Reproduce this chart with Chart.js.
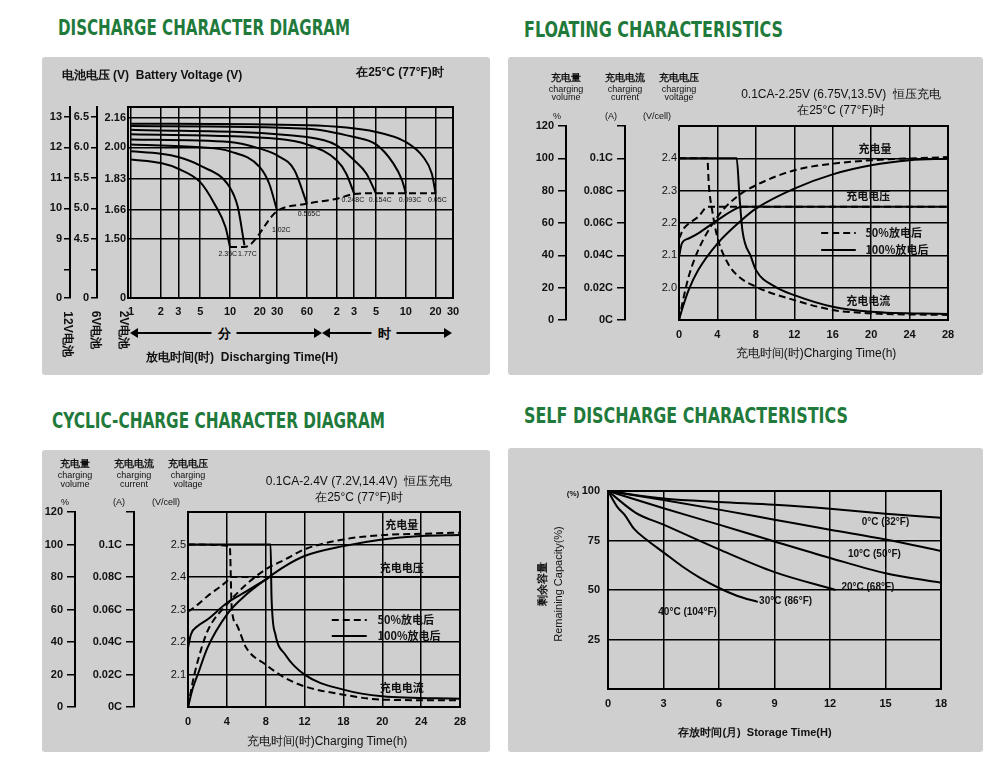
<!DOCTYPE html>
<html>
<head>
<meta charset="utf-8">
<script src="https://cdn.jsdelivr.net/npm/chart.js@4.4.1/dist/chart.umd.min.js"></script>
<style>
  body { margin: 0; width: 1000px; height: 770px; background: #fff; position: relative; overflow: hidden;
         font-family: "Liberation Sans", Arial, sans-serif; }
  .panel { position: absolute; background: #cfcfcf; border-radius: 3px; }
  .panel canvas { position: absolute; left: 0; top: 0; }
  .t { position: absolute; white-space: nowrap; color: #111; font-weight: bold; transform: translate(-50%, -50%); line-height: 1; }
  .ttl { position: absolute; white-space: nowrap; color: #1f7a3c; font-family: "DejaVu Sans Condensed", "DejaVu Sans", sans-serif;
         font-weight: bold; font-size: 21px; transform-origin: 0 50%; line-height: 1; }
  .vt { position: absolute; white-space: nowrap; font-weight: bold; color: #111; transform: translate(-50%, -50%) rotate(90deg); }
  .vl { position: absolute; white-space: nowrap; font-weight: bold; color: #111; transform: translate(-50%, -50%) rotate(-90deg); }
  .arr { position: absolute; height: 0; border-top: 2px solid #000; }
  .arr span { position: absolute; top: -9px; font-size: 13px; font-weight: bold; background: #cfcfcf; padding: 0 6px; transform: translateX(-50%); }
  .arr i { position: absolute; top: -6px; width: 0; height: 0; border-top: 5px solid transparent; border-bottom: 5px solid transparent; }
  .arr i.l { left: -2px; border-right: 8px solid #000; }
  .arr i.r { right: -2px; border-left: 8px solid #000; }
</style>
</head>
<body>
<div class="ttl" data-w="292" style="left:58px;top:18px">DISCHARGE CHARACTER DIAGRAM</div>
<div class="ttl" data-w="259" style="left:524px;top:20px">FLOATING CHARACTERISTICS</div>
<div class="ttl" data-w="333" style="left:52px;top:411px">CYCLIC-CHARGE CHARACTER DIAGRAM</div>
<div class="ttl" data-w="324" style="left:524px;top:406px">SELF DISCHARGE CHARACTERISTICS</div>

<div class="panel" style="left:42px;top:57px;width:448px;height:318px"><canvas id="c1" width="448" height="318"></canvas></div>
<div class="panel" style="left:508px;top:57px;width:475px;height:318px"><canvas id="c2" width="475" height="318"></canvas></div>
<div class="panel" style="left:42px;top:450px;width:448px;height:302px"><canvas id="c3" width="448" height="302"></canvas></div>
<div class="panel" style="left:508px;top:448px;width:475px;height:304px"><canvas id="c4" width="475" height="304"></canvas></div>

<!-- panel 1 texts -->
<div class="t" style="left:152px;top:75px;font-size:12px">电池电压 (V) &nbsp;Battery Voltage (V)</div>
<div class="t" style="left:400px;top:72px;font-size:12px">在25°C (77°F)时</div>
<div class="vt" style="left:67px;top:334px;font-size:12px">12V电池</div>
<div class="vt" style="left:95px;top:330px;font-size:12px">6V电池</div>
<div class="vt" style="left:123px;top:330px;font-size:12px">2V电池</div>
<div class="arr" style="left:132px;top:332px;width:188px"><i class="l"></i><span style="left:92px">分</span><i class="r"></i></div>
<div class="arr" style="left:324px;top:332px;width:126px"><i class="l"></i><span style="left:60px">时</span><i class="r"></i></div>
<div class="t" style="left:242px;top:357px;font-size:12px">放电时间(时) &nbsp;Discharging Time(H)</div>

<!-- panel 2 texts -->
<div class="t" style="left:566px;top:78px;font-size:10px">充电量</div>
<div class="t" style="left:566px;top:89px;font-size:9px;font-weight:normal">charging</div>
<div class="t" style="left:566px;top:97px;font-size:9px;font-weight:normal">volume</div>
<div class="t" style="left:625px;top:78px;font-size:10px">充电电流</div>
<div class="t" style="left:625px;top:89px;font-size:9px;font-weight:normal">charging</div>
<div class="t" style="left:625px;top:97px;font-size:9px;font-weight:normal">current</div>
<div class="t" style="left:679px;top:78px;font-size:10px">充电电压</div>
<div class="t" style="left:679px;top:89px;font-size:9px;font-weight:normal">charging</div>
<div class="t" style="left:679px;top:97px;font-size:9px;font-weight:normal">voltage</div>
<div class="t" style="left:557px;top:116px;font-size:9px;font-weight:normal">%</div>
<div class="t" style="left:611px;top:116px;font-size:9px;font-weight:normal">(A)</div>
<div class="t" style="left:657px;top:116px;font-size:9px;font-weight:normal">(V/cell)</div>
<div class="t" style="left:841px;top:94px;font-size:12px;font-weight:normal">0.1CA-2.25V (6.75V,13.5V) &nbsp;恒压充电</div>
<div class="t" style="left:841px;top:110px;font-size:12px;font-weight:normal">在25°C (77°F)时</div>
<div class="t" style="left:816px;top:353px;font-size:12px;font-weight:normal">充电时间(时)Charging Time(h)</div>

<!-- panel 3 texts -->
<div class="t" style="left:75px;top:464px;font-size:10px">充电量</div>
<div class="t" style="left:75px;top:475px;font-size:9px;font-weight:normal">charging</div>
<div class="t" style="left:75px;top:484px;font-size:9px;font-weight:normal">volume</div>
<div class="t" style="left:134px;top:464px;font-size:10px">充电电流</div>
<div class="t" style="left:134px;top:475px;font-size:9px;font-weight:normal">charging</div>
<div class="t" style="left:134px;top:484px;font-size:9px;font-weight:normal">current</div>
<div class="t" style="left:188px;top:464px;font-size:10px">充电电压</div>
<div class="t" style="left:188px;top:475px;font-size:9px;font-weight:normal">charging</div>
<div class="t" style="left:188px;top:484px;font-size:9px;font-weight:normal">voltage</div>
<div class="t" style="left:65px;top:502px;font-size:9px;font-weight:normal">%</div>
<div class="t" style="left:119px;top:502px;font-size:9px;font-weight:normal">(A)</div>
<div class="t" style="left:166px;top:502px;font-size:9px;font-weight:normal">(V/cell)</div>
<div class="t" style="left:359px;top:481px;font-size:12px;font-weight:normal">0.1CA-2.4V (7.2V,14.4V) &nbsp;恒压充电</div>
<div class="t" style="left:359px;top:497px;font-size:12px;font-weight:normal">在25°C (77°F)时</div>
<div class="t" style="left:327px;top:741px;font-size:12px;font-weight:normal">充电时间(时)Charging Time(h)</div>

<!-- panel 4 texts -->
<div class="t" style="left:573px;top:494px;font-size:8px">(%)</div>
<div class="vl" style="left:542px;top:584px;font-size:11px">剩余容量</div>
<div class="vl" style="left:558px;top:584px;font-size:11px;font-weight:normal">Remaining Capacity(%)</div>
<div class="t" style="left:755px;top:732px;font-size:11px">存放时间(月) &nbsp;Storage Time(H)</div>

<script>
// ---------- discharge (panel 1) ----------
const dischargeTicksMin = [1, 2, 3, 5, 10, 20, 30, 60, 120, 180, 300, 600, 1200, 1800];
const dischargeTickLabels = ['1', '2', '3', '5', '10', '20', '30', '60', '2', '3', '5', '10', '20', '30'];
const volt2Ticks = [1.178, 1.50, 1.66, 1.83, 2.00, 2.16];
const volt2Labels = ['0', '1.50', '1.66', '1.83', '2.00', '2.16'];
const volt6Ticks = [3.534, 4.0, 4.5, 5.0, 5.5, 6.0, 6.5];
const volt6Labels = ['0', '', '4.5', '5.0', '5.5', '6.0', '6.5'];
const volt12Ticks = [7.068, 8, 9, 10, 11, 12, 13];
const volt12Labels = ['0', '', '9', '10', '11', '12', '13'];

const rate235 = [[1,1.934],[2,1.914],[3,1.883],[5,1.81],[7,1.69],[9,1.565],[10,1.456]];
const rate177 = [[1,1.978],[2,1.965],[3,1.947],[5,1.90],[10,1.78],[12,1.674],[14,1.465]];
const rate102 = [[1,2.016],[5,2.00],[10,1.978],[20,1.892],[25,1.80],[30,1.652]];
const rate0565 = [[1,2.043],[10,2.029],[20,1.993],[30,1.956],[45,1.874],[60,1.692]];
const rate0248 = [[1,2.071],[30,2.047],[60,2.016],[120,1.929],[150,1.856],[180,1.747]];
const rate0154 = [[1,2.096],[60,2.056],[120,2.011],[180,1.929],[240,1.856],[300,1.747]];
const rate0093 = [[1,2.116],[60,2.102],[180,2.056],[300,2.016],[450,1.911],[550,1.82],[600,1.75]];
const rate005 = [[1,2.129],[60,2.12],[300,2.084],[600,2.029],[900,1.947],[1100,1.856],[1200,1.75]];
const endVoltage = [[10,1.456],[14,1.456],[30,1.652],[60,1.692],[120,1.72],[180,1.745],[300,1.75],[600,1.75],[1200,1.75]];
const rateNames = ['2.35C', '1.77C', '1.02C', '0.565C', '0.248C', '0.154C', '0.093C', '0.05C'];
const rateLabelAt = [[9.5,1.416],[15,1.416],[33,1.547],[63,1.638],[175,1.714],[330,1.714],[660,1.714],[1250,1.714]];

// ---------- floating (panel 2) ----------
const floatVol100 = [[0,0],[0.3,6.2],[1,18.5],[2,30.9],[4,47.3],[6.5,61.7],[8,68.9],[12,81.3],[16,90.1],[20,95.7],[24,98.8],[28,99.8]];
const floatVol50 = [[0,0],[0.5,14.4],[1,26.7],[2,43.2],[4,63.8],[6,76.1],[8,83.3],[12,92.6],[16,96.7],[20,98.8],[28,100.8]];
const floatV50 = [[0,2.152],[0.5,2.183],[1,2.198],[2,2.219],[3,2.25],[28,2.25]];
const floatV100 = [[0,2.095],[0.3,2.137],[1,2.152],[2,2.168],[4,2.209],[6,2.245],[6.5,2.25],[28,2.25]];
const floatI100 = [[0,0.1],[6,0.1],[6.3,0.076],[6.6,0.0555],[7.5,0.039],[8,0.031],[10,0.0206],[12,0.0154],[16,0.0082],[20,0.0051],[28,0.0037]];
const floatI50 = [[0,0.1],[2.95,0.1],[3.1,0.084],[3.5,0.066],[4,0.051],[5,0.036],[6,0.028],[8,0.0206],[12,0.0123],[16,0.0062],[20,0.0041],[28,0.0031]];

// ---------- cyclic (panel 3) ----------
const cycleXLabels = ['0', '4', '8', '12', '18', '20', '24', '28'];
const cycVol100 = [[0,0],[0.5,11.7],[1,19.9],[2,36.4],[4,56.9],[6,69.2],[8,78.5],[10,86.7],[12,92.9],[16,99],[20,103.1],[24,105.2],[28,105.8]];
const cycVol50 = [[0,0],[0.5,15.8],[1,28.1],[2,46.6],[4,63.1],[6,75.4],[8,84.7],[10,90.8],[12,97],[16,103.1],[20,105.8],[24,106.6],[28,107.3]];
const cycV50 = [[0,2.293],[1,2.315],[2,2.341],[4,2.387],[4.4,2.4],[28,2.4]];
const cycV100 = [[0,2.182],[0.3,2.223],[1,2.249],[2,2.269],[4,2.32],[6,2.356],[8,2.392],[8.5,2.4],[28,2.4]];
const cycI100 = [[0,0.1],[8.5,0.1],[8.6,0.0672],[9,0.0446],[10,0.0323],[12,0.0199],[16,0.0107],[20,0.0066],[28,0.0051]];
const cycI50 = [[0,0.1],[4.3,0.099],[4.5,0.061],[5,0.0507],[6,0.0364],[8,0.0261],[10,0.0179],[12,0.0127],[16,0.0076],[20,0.0045],[28,0.0041]];

// ---------- self discharge (panel 4) ----------
const selfT0 = [[0,100],[3,96.2],[6,94.4],[9,93],[12,91],[15,88.5],[18,86.5]];
const selfT10 = [[0,100],[3,95.5],[6,90.6],[9,85.5],[12,80.4],[15,75.5],[18,69.7]];
const selfT20 = [[0,100],[3,91.3],[6,83],[9,74.5],[12,66.2],[15,58.5],[18,53.7]];
const selfT30 = [[0,100],[1.5,89],[3,83],[6,70.5],[9,59],[12.3,50]];
const selfT40 = [[0,100],[0.5,92],[0.9,87.9],[1.4,81],[2,76],[3,69],[4,62],[5,56],[6,51],[7,47],[8.1,44]];
const selfNames = ['0°C (32°F)', '10°C (50°F)', '20°C (68°F)', '30°C (86°F)', '40°C (104°F)'];
const selfLabelAt = [[15,84.3],[14.4,68.3],[14.05,51.4],[9.6,44.4],[4.3,38.8]];

const FONT = { family: 'Liberation Sans, Arial, sans-serif', size: 11, weight: 'bold' };
Chart.defaults.font.family = FONT.family;
Chart.defaults.color = '#111';
Chart.defaults.animation = false;

// fixed-size axis so the plot area lands where the reference has it
function fixW(w) { return s => { s.width = w; }; }
function fixH(h) { return s => { s.height = h; }; }
function setTicks(vals) { return s => { s.ticks = vals.map(v => ({ value: v })); }; }

function sideAxis(w, weight, min, max, vals, labels, onChart) {
    return {
        position: 'left', weight: weight, min: min, max: max,
        afterFit: fixW(w), afterBuildTicks: setTicks(vals),
        border: { display: true, color: '#000', width: 2 },
        grid: { display: true, drawOnChartArea: !!onChart, color: '#000', lineWidth: 1.5, tickLength: 6 },
        ticks: { font: FONT, padding: 2, autoSkip: false, callback: (v, i) => labels[i] }
    };
}

function line(data, yID, dashed) {
    return {
        data: data.map(p => ({ x: p[0], y: p[1] })), yAxisID: yID,
        borderColor: '#000', borderWidth: 2, borderDash: dashed ? [7, 4] : [],
        pointRadius: 0, fill: false, cubicInterpolationMode: 'monotone'
    };
}

// frame + text notes + legend samples drawn in data units
const notesPlugin = {
    id: 'notes',
    afterDatasetsDraw(chart, args, o) {
        const ctx = chart.ctx, a = chart.chartArea;
        ctx.save();
        ctx.strokeStyle = '#000'; ctx.lineWidth = 2;
        ctx.strokeRect(a.left, a.top, a.right - a.left, a.bottom - a.top);
        const xs = chart.scales.x, ys = chart.scales[o.yID];
        ctx.fillStyle = '#111'; ctx.textBaseline = 'middle';
        (o.items || []).forEach(it => {
            ctx.font = o.font; ctx.textAlign = it.align || 'center';
            ctx.fillText(it.t, xs.getPixelForValue(it.x), ys.getPixelForValue(it.y));
        });
        (o.keys || []).forEach(k => {
            ctx.setLineDash(k.dash ? [7, 4] : []); ctx.lineWidth = 2;
            const y = ys.getPixelForValue(k.y);
            ctx.beginPath(); ctx.moveTo(xs.getPixelForValue(k.x1), y); ctx.lineTo(xs.getPixelForValue(k.x2), y); ctx.stroke();
        });
        ctx.restore();
    }
};
Chart.register(notesPlugin);

// ---------- chart 1 ----------
const rates = [rate235, rate177, rate102, rate0565, rate0248, rate0154, rate0093, rate005];
new Chart(document.getElementById('c1'), {
    type: 'line',
    data: { datasets: rates.map(r => line(r, 'y2', false)).concat([line(endVoltage, 'y2', true)]) },
    options: {
        responsive: false, devicePixelRatio: 1,
        layout: { padding: { left: 0, top: 50, right: 37, bottom: 57 } },
        plugins: {
            legend: { display: false }, tooltip: { enabled: false },
            notes: { yID: 'y2', font: '7px Liberation Sans', items: rates.map((r, i) => ({ x: rateLabelAt[i][0], y: rateLabelAt[i][1], t: rateNames[i] })) }
        },
        scales: {
            x: {
                type: 'logarithmic', min: 0.93, max: 1800, afterFit: fixH(20), afterBuildTicks: setTicks(dischargeTicksMin),
                border: { display: true, color: '#000', width: 2 },
                grid: { color: '#000', lineWidth: 1.5, drawTicks: false },
                ticks: { font: FONT, padding: 7, autoSkip: false, maxRotation: 0, callback: (v, i) => dischargeTickLabels[i] }
            },
            y12: sideAxis(28, 3, 7.068, 13.32, volt12Ticks, volt12Labels, false),
            y6: sideAxis(27, 2, 3.534, 6.66, volt6Ticks, volt6Labels, false),
            y2: Object.assign(sideAxis(31, 1, 1.178, 2.22, volt2Ticks, volt2Labels, true), { grid: { color: '#000', lineWidth: 1.5, tickLength: 0 } })
        }
    }
});

// ---------- charge charts (panels 2 and 3) ----------
function chargeChart(id, pad, widths, vMin, vTicks, vLabels, xLabels, sets, notes) {
    const pctTicks = [0, 20, 40, 60, 80, 100, 120];
    const pctLabels = ['0', '20', '40', '60', '80', '100', '120'];
    const ampTicks = [0, 0.02, 0.04, 0.06, 0.08, 0.1, 0.12];
    const ampLabels = ['0C', '0.02C', '0.04C', '0.06C', '0.08C', '0.1C', ''];
    const vy = sideAxis(widths[2], 1, vMin, vMin + 0.6, vTicks, vLabels, true);
    vy.grid = { color: '#000', lineWidth: 1.5, tickLength: 0 };
    vy.ticks.font = Object.assign({}, FONT, { weight: 'normal' });
    const pa = sideAxis(widths[0], 3, 0, 120, pctTicks, pctLabels, false);
    const aa = sideAxis(widths[1], 2, 0, 0.12, ampTicks, ampLabels, false);
    pa.ticks.padding = 4; aa.ticks.padding = 4;
    pa.grid.tickLength = 8; aa.grid.tickLength = 8;
    new Chart(document.getElementById(id), {
        type: 'line',
        data: { datasets: sets },
        options: {
            responsive: false, devicePixelRatio: 1,
            layout: { padding: pad },
            plugins: { legend: { display: false }, tooltip: { enabled: false }, notes: notes },
            scales: {
                x: {
                    type: 'linear', min: 0, max: 28, afterFit: fixH(20), afterBuildTicks: setTicks([0, 4, 8, 12, 16, 20, 24, 28]),
                    border: { display: true, color: '#000', width: 2 },
                    grid: { color: '#000', lineWidth: 1.5, drawTicks: false },
                    ticks: { font: FONT, padding: 8, autoSkip: false, maxRotation: 0, callback: (v, i) => xLabels[i] }
                },
                yP: pa, yA: aa, yV: vy
            }
        }
    });
}

const floatXLabels = ['0', '4', '8', '12', '16', '20', '24', '28'];
chargeChart('c2', { left: 0, top: 69, right: 35, bottom: 35 }, [58, 59, 54], 1.9,
    [1.9, 2.0, 2.1, 2.2, 2.3, 2.4, 2.5], ['', '2.0', '2.1', '2.2', '2.3', '2.4', ''], floatXLabels,
    [line(floatVol100, 'yP', false), line(floatVol50, 'yP', true), line(floatV100, 'yV', false), line(floatV50, 'yV', true),
     line(floatI100, 'yA', false), line(floatI50, 'yA', true)],
    { yID: 'yP', font: 'bold 11px Noto Sans CJK SC',
      items: [{ x: 20.4, y: 105.7, t: '充电量' }, { x: 19.7, y: 76.7, t: '充电电压' }, { x: 19.7, y: 11.8, t: '充电电流' },
              { x: 19.4, y: 53.8, t: '50%放电后', align: 'left' }, { x: 19.4, y: 43.3, t: '100%放电后', align: 'left' }],
      keys: [{ x1: 14.8, x2: 18.4, y: 53.8, dash: true }, { x1: 14.8, x2: 18.4, y: 43.3, dash: false }] });

chargeChart('c3', { left: 0, top: 62, right: 30, bottom: 25 }, [33, 59, 54], 2.0,
    [2.0, 2.1, 2.2, 2.3, 2.4, 2.5, 2.6], ['', '2.1', '2.2', '2.3', '2.4', '2.5', ''], cycleXLabels,
    [line(cycVol100, 'yP', false), line(cycVol50, 'yP', true), line(cycV100, 'yV', false), line(cycV50, 'yV', true),
     line(cycI100, 'yA', false), line(cycI50, 'yA', true)],
    { yID: 'yP', font: 'bold 11px Noto Sans CJK SC',
      items: [{ x: 22, y: 112, t: '充电量' }, { x: 22, y: 85.5, t: '充电电压' }, { x: 22, y: 11.7, t: '充电电流' },
              { x: 19.5, y: 53.5, t: '50%放电后', align: 'left' }, { x: 19.5, y: 43.7, t: '100%放电后', align: 'left' }],
      keys: [{ x1: 14.8, x2: 18.4, y: 53.5, dash: true }, { x1: 14.8, x2: 18.4, y: 43.7, dash: false }] });

// ---------- chart 4 ----------
const selfSets = [selfT0, selfT10, selfT20, selfT30, selfT40];
new Chart(document.getElementById('c4'), {
    type: 'line',
    data: { datasets: selfSets.map(s => line(s, 'y', false)) },
    options: {
        responsive: false, devicePixelRatio: 1,
        layout: { padding: { left: 60, top: 43, right: 42, bottom: 41 } },
        plugins: {
            legend: { display: false }, tooltip: { enabled: false },
            notes: { yID: 'y', font: 'bold 10px Liberation Sans',
                     items: selfNames.map((n, i) => ({ x: selfLabelAt[i][0], y: selfLabelAt[i][1], t: n })) }
        },
        scales: {
            x: {
                type: 'linear', min: 0, max: 18, afterFit: fixH(22), afterBuildTicks: setTicks([0, 3, 6, 9, 12, 15, 18]),
                border: { display: true, color: '#000', width: 2 },
                grid: { color: '#000', lineWidth: 1.5, drawTicks: false },
                ticks: { font: FONT, padding: 8, maxRotation: 0 }
            },
            y: {
                min: 0, max: 100, afterFit: fixW(40), afterBuildTicks: setTicks([25, 50, 75, 100]),
                border: { display: true, color: '#000', width: 2 },
                grid: { color: '#000', lineWidth: 1.5, drawTicks: false },
                ticks: { font: FONT, padding: 8 }
            }
        }
    }
});

// squeeze titles to the reference widths
document.querySelectorAll('.ttl').forEach(el => {
    const w = el.getBoundingClientRect().width;
    el.style.transform = 'scaleX(' + (Number(el.dataset.w) / w) + ')';
});
</script>
</body>
</html>
